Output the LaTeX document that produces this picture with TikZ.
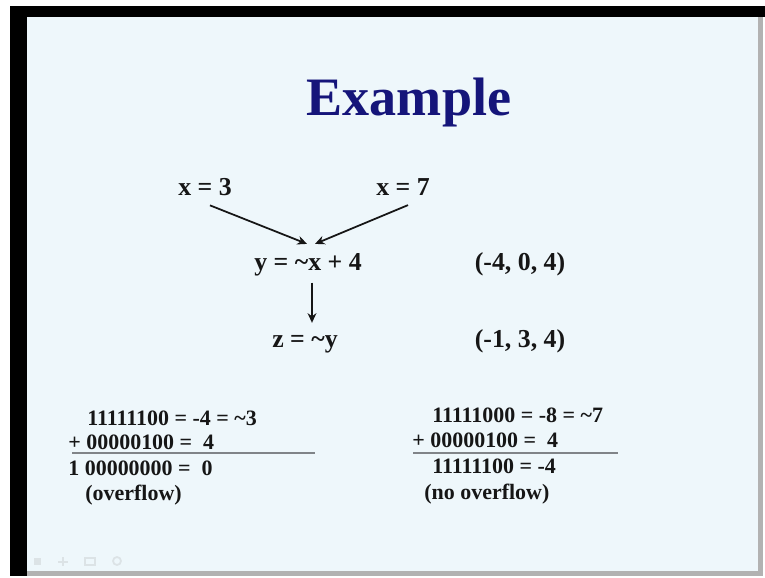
\documentclass[tikz,border=0pt]{standalone}
\usepackage{fontspec}
\setmainfont{Liberation Serif}
\usetikzlibrary{calc, arrows.meta}

\begin{document}
\begin{tikzpicture}[x=0.02cm, y=-0.02cm,
    every node/.style={font=\bfseries\fontsize{14.7}{17}\selectfont, text=textColour, inner sep=1pt, anchor=base},
    sumline/.style={font=\bfseries\fontsize{12.5}{14}\selectfont, anchor=base west, inner sep=0pt},
    flow/.style={-{Stealth[length=5.5pt, width=5pt]}, line width=1pt, draw=textColour}]

    \definecolor{textColour}{HTML}{161616}
    \definecolor{titleColour}{HTML}{15157A}
    \definecolor{slideColour}{HTML}{EEF7FB}
    \definecolor{ruleColour}{HTML}{808488}
    \definecolor{iconColour}{HTML}{DCE3E6}

    \useasboundingbox (0,0) rectangle (765,578);

    % Slide frame
    \fill[white] (0,0) rectangle (765,578);
    \fill[black] (10,6) rectangle (765,17);
    \fill[black] (10,6) rectangle (27,576);
    \fill[gray!60] (757,17) rectangle (763,576);
    \fill[gray!60] (27,571) rectangle (763,576);
    \fill[slideColour] (27,17) rectangle (758,571);

    % Title
    \node[font=\bfseries\fontsize{30.8}{34}\selectfont, text=titleColour] (title) at (409,115) {Example};

    % Inputs and statements
    \node (xthree) at (205,195) {x = 3};
    \node (xseven) at (403,195) {x = 7};
    \node (ycalc) at (308,270) {y = \textasciitilde x + 4};
    \node (zcalc) at (305,347) {z = \textasciitilde y};

    % Value sets
    \node (yset) at (520,270) {(-4, 0, 4)};
    \node (zset) at (520,347) {(-1, 3, 4)};

    % Flow arrows
    \draw[flow] ($(xthree.south)+(5,8)$) -- ($(ycalc.north)+(-1,-7)$);
    \draw[flow] ($(xseven.south)+(5,8)$) -- ($(ycalc.north)+(7,-7)$);
    \draw[flow] ($(ycalc.south)+(4,5)$) -- ($(zcalc.north)+(7,-10)$);

    % Left sum (overflow)
    \node[sumline] (lone) at (87,425) {11111100 = -4 = \textasciitilde 3};
    \node[sumline] (ltwo) at (68,449) {+ 00000100 =\ \ 4};
    \node[sumline] (lres) at (68,475) {1 00000000 =\ \ 0};
    \node[sumline] (lnote) at (85,500) {(overflow)};
    \draw[ruleColour, line width=1.2pt] (72,453) -- (315,453);

    % Right sum (no overflow)
    \node[sumline] (rone) at (432,422) {11111000 = -8 = \textasciitilde 7};
    \node[sumline] (rtwo) at (412,447) {+ 00000100 =\ \ 4};
    \node[sumline] (rres) at (432,473) {11111100 = -4};
    \node[sumline] (rnote) at (424,499) {(no overflow)};
    \draw[ruleColour, line width=1.2pt] (413,453) -- (618,453);

    % Faint navigation icons
    \fill[iconColour] (34,558) rectangle (41,565);
    \draw[iconColour, line width=1pt] (58,562) -- (68,562) (63,557) -- (63,566);
    \draw[iconColour, line width=1pt] (85,558) rectangle (95,565);
    \draw[iconColour, line width=1pt] (117,561) circle (4);
\end{tikzpicture}
\end{document}
